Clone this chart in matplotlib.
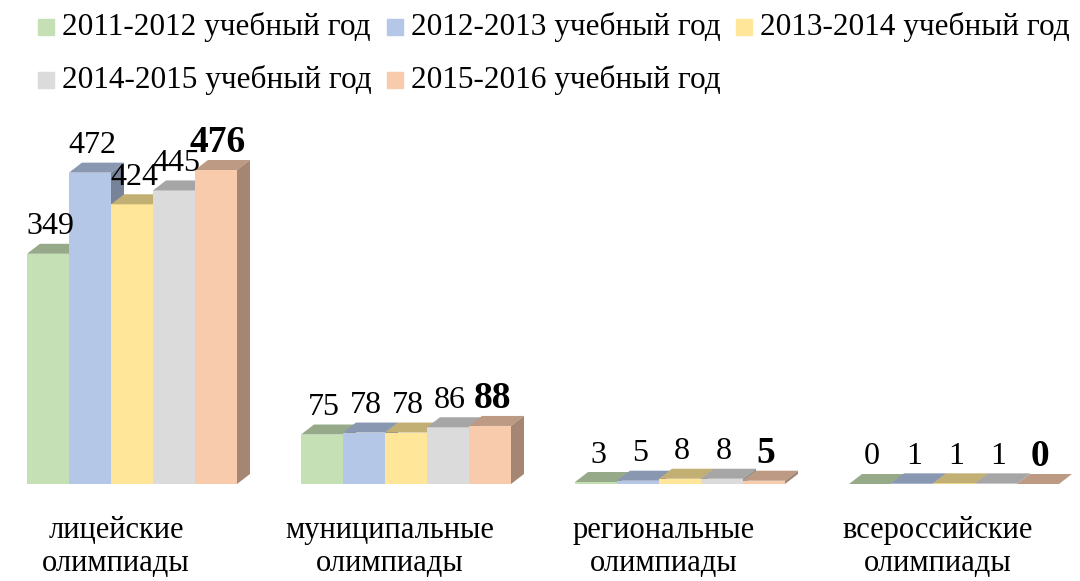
import matplotlib
matplotlib.use("Agg")
import matplotlib.pyplot as plt
from matplotlib.patches import Polygon, Rectangle
import matplotlib.colors as mcolors
import numpy as np

# данные
categories = ["лицейские\nолимпиады", "муниципальные\nолимпиады",
              "региональные\nолимпиады", "всероссийские\nолимпиады"]
series = ["2011-2012 учебный год", "2012-2013 учебный год", "2013-2014 учебный год",
          "2014-2015 учебный год", "2015-2016 учебный год"]
values = [
    [349, 75, 3, 0],
    [472, 78, 5, 1],
    [424, 78, 8, 1],
    [445, 86, 8, 1],
    [476, 88, 5, 0],
]
colors = ["#C5E0B4", "#B4C7E7", "#FFE699", "#DBDBDB", "#F8CBAD"]

plt.rcParams["font.family"] = ["Liberation Serif", "DejaVu Serif"]

W, H = 1080, 581
fig = plt.figure(figsize=(W / 100, H / 100), dpi=100)
ax = fig.add_axes([0, 0, 1, 1])
ax.axis("off")

# масштаб: единиц данных на пиксель
xpp = 1 / 274
ypp = 476 / 314
ax.set_xlim(-132 * xpp, (W - 132) * xpp)
ax.set_ylim(-97 * ypp, (H - 97) * ypp)

bw = 42 * xpp
dx, dy = 13 * xpp, 10 * ypp


def shade(c, f):
    r, g, b = mcolors.to_rgb(c)
    return (r * f, g * f, b * f)


x = np.arange(len(categories))
for ci in range(len(categories)):
    for si in range(len(series)):
        h = values[si][ci]
        x0 = x[ci] + (si - 2.5) * bw
        x1 = x0 + bw
        c = colors[si]
        z = si * 3 + ci * 20
        ax.bar(x0, h, width=bw, align="edge", color=c, zorder=z)
        ax.add_patch(Polygon([(x0, h), (x0 + dx, h + dy), (x1 + dx, h + dy), (x1, h)],
                             closed=True, color=shade(c, 0.76), zorder=z + 1, lw=0))
        ax.add_patch(Polygon([(x1, 0), (x1, h), (x1 + dx, h + dy), (x1 + dx, dy)],
                             closed=True, color=shade(c, 0.66), zorder=z + 2, lw=0))
        bold = si == len(series) - 1
        ax.annotate(str(h), (x0 + bw / 2 + 2 * xpp, h), xytext=(0, 27), textcoords="offset pixels",
                    ha="center", va="center", fontsize=27 if bold else 23,
                    fontweight="bold" if bold else "normal", zorder=200)
    ax.text(x[ci] - 16 * xpp, -32 * ypp, categories[ci], ha="center", va="top",
            fontsize=22, linespacing=1.2)

# легенда
col_x = [38, 387, 736]
row_y = [27, 80]
for si, name in enumerate(series):
    px = col_x[si % 3]
    py = row_y[si // 3]
    fig.add_artist(Rectangle((px / W, 1 - (py + 8) / H), 16 / W, 16 / H,
                             transform=fig.transFigure, color=colors[si]))
    fig.text((px + 24) / W, 1 - py / H, name, ha="left", va="center", fontsize=22.5)

fig.savefig("out.png", dpi=100)
